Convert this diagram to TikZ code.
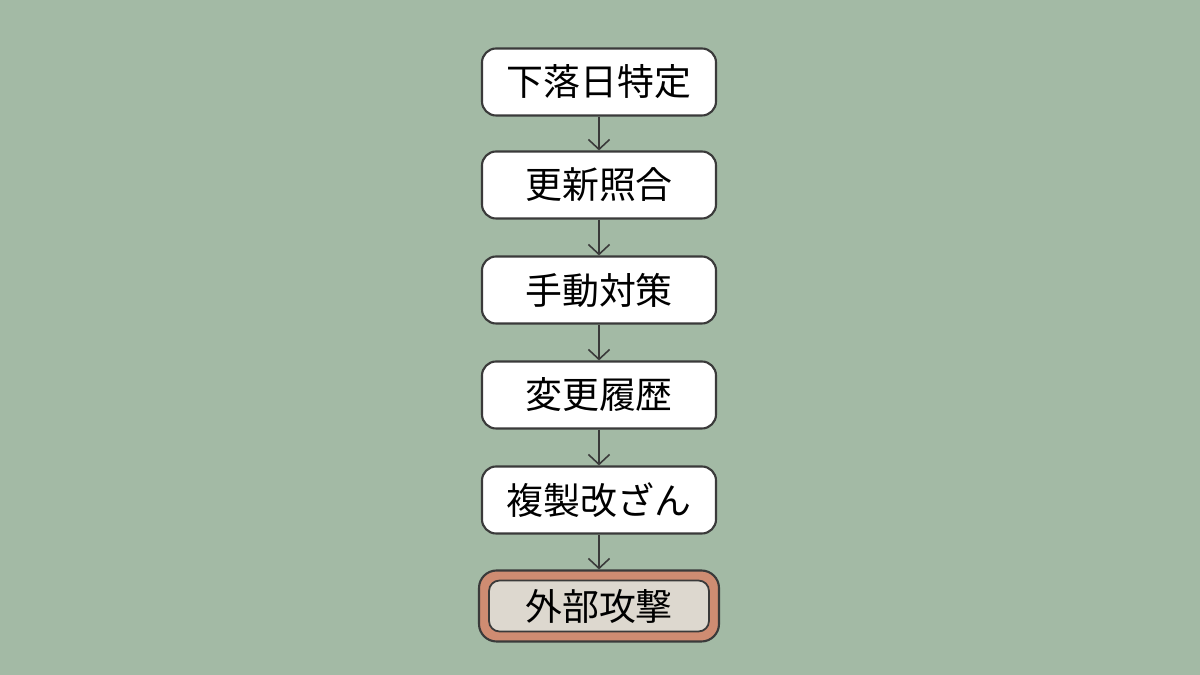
\documentclass[tikz,border=0pt]{standalone}
\usepackage{fontspec}
\setmainfont{Noto Sans CJK JP}
\usepackage{tikz}
\usetikzlibrary{arrows.meta,positioning,backgrounds}
\definecolor{sage}{HTML}{A3BAA5}
\definecolor{inkline}{HTML}{3A3A3A}
\definecolor{clay}{HTML}{CF8C72}
\definecolor{stone}{HTML}{DDD8CF}

\begin{document}
\begin{tikzpicture}[
		      stepbox/.style={draw=inkline,line width=0.6pt,fill=white,rounded corners=4pt,minimum width=2.34cm,minimum height=0.67cm,inner sep=0pt,font=\fontsize{10.5}{12}\selectfont},
		      goal/.style={draw=inkline,line width=0.6pt,fill=clay,rounded corners=5pt,minimum width=2.40cm,minimum height=0.71cm,inner sep=0pt},
		      goalin/.style={draw=inkline,line width=0.5pt,fill=stone,rounded corners=3pt,minimum width=2.20cm,minimum height=0.51cm,inner sep=0pt,font=\fontsize{10.5}{12}\selectfont},
		      arr/.style={-{Straight Barb[length=2.8pt,width=6pt]},line width=0.45pt,draw=inkline},
		      >=Latex
		    ]

    \fill[sage] (0,0) rectangle (12,6.75);
    \useasboundingbox (0,0) rectangle (12,6.75);

    \node[stepbox] (S1) at (5.99,5.93) {下落日特定};
    \node[stepbox] (S2) at (5.99,4.90) {更新照合};
    \node[stepbox] (S3) at (5.99,3.85) {手動対策};
    \node[stepbox] (S4) at (5.99,2.80) {変更履歴};
    \node[stepbox] (S5) at (5.99,1.75) {複製改ざん};
    \node[goal] (G) at (5.99,0.69) {};
    \node[goalin] (Gi) at (G.center) {外部攻撃};

    % chain of steps, top to bottom
    \draw[arr] (S1) -- (S2);
    \draw[arr] (S2) -- (S3);
    \draw[arr] (S3) -- (S4);
    \draw[arr] (S4) -- (S5);
    \draw[arr] (S5) -- (G);

  \end{tikzpicture}
\end{document}
